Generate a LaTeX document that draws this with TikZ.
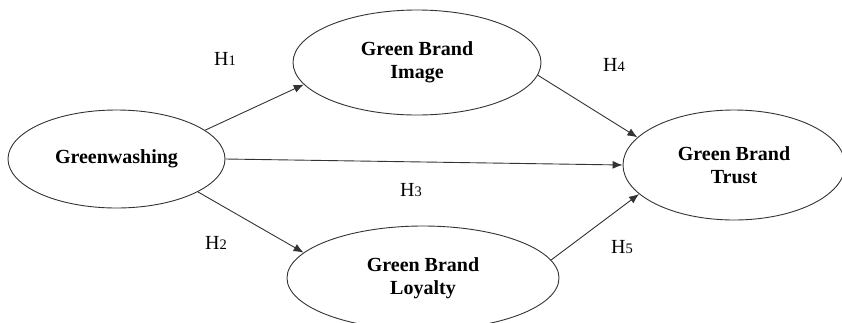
\documentclass[tikz,border=0pt]{standalone}
\usepackage{fontspec}
\setmainfont{Liberation Serif}
\usetikzlibrary{arrows.meta,shapes.geometric}
\newcommand{\hnum}[1]{H{\fontsize{14.5}{14.5}\selectfont #1}}

\begin{document}
\begin{tikzpicture}[x=1pt, y=-1pt,
    var/.style = {ellipse, draw=black!80, line width=0.9pt, inner sep=0pt,
        align=center, font=\fontsize{20}{23.5}\selectfont\bfseries},
    hlabel/.style = {font=\fontsize{20}{22}\selectfont},
    link/.style = {draw=black!80, line width=0.9pt, -{Latex[length=10pt,width=8pt]}}]
\useasboundingbox (0,0) rectangle (842,322);
\clip (0,0) rectangle (842,322);
\node[var, minimum width=217pt, minimum height=98pt] (wash) at (116.5,159) {Greenwashing};
\node[var, minimum width=248pt, minimum height=105pt] (image) at (417,62.5) {Green Brand\\Image};
\node[var, minimum width=272pt, minimum height=104pt] (loyal) at (423,278) {Green Brand\\Loyalty};
\node[var, minimum width=222pt, minimum height=110pt] (trust) at (734,165) {Green Brand\\Trust};
\draw[link] (wash.18) -- (image.191);
\draw[link] (wash.-22) -- (loyal.168);
\draw[link] (wash.east) -- (trust.west);
\draw[link] (image.-6) -- (trust.164);
\draw[link] (loyal.8) -- (trust.197);
\node[hlabel] (h1) at (225,59) {\hnum{1}};
\node[hlabel] (h2) at (216,243) {\hnum{2}};
\node[hlabel] (h3) at (411,190) {\hnum{3}};
\node[hlabel] (h4) at (614,65) {\hnum{4}};
\node[hlabel] (h5) at (622,247) {\hnum{5}};
\end{tikzpicture}
\end{document}
